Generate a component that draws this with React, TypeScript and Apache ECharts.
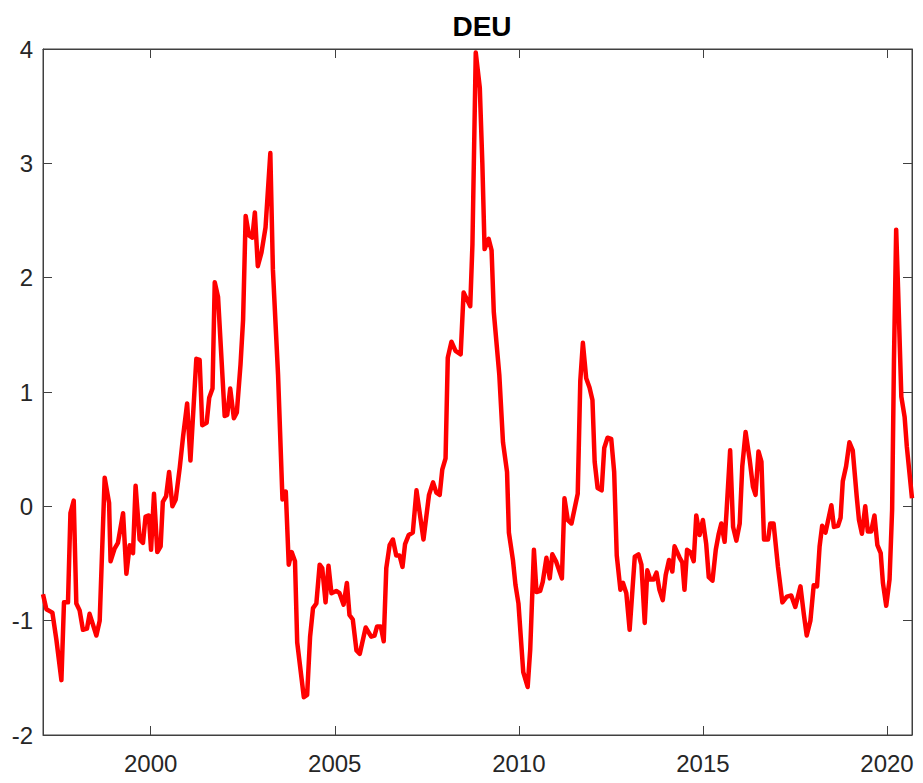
import React, { useEffect, useRef } from "react";
import * as echarts from "echarts";

const title = "DEU";

const years: number[] = [
  1997.075, 1997.167, 1997.33, 1997.44, 1997.575, 1997.645, 1997.754, 1997.82, 1997.91, 1997.98,
  1998.07, 1998.16, 1998.27, 1998.34, 1998.525, 1998.615, 1998.75, 1998.87, 1998.91, 1999.02,
  1999.11, 1999.25, 1999.34, 1999.43, 1999.52, 1999.59, 1999.7, 1999.79, 1999.86, 1999.95,
  2000.01, 2000.09, 2000.18, 2000.27, 2000.33, 2000.42, 2000.5, 2000.59, 2000.68, 2000.79,
  2000.88, 2000.99, 2001.08, 2001.24, 2001.33, 2001.4, 2001.52, 2001.59, 2001.68, 2001.74,
  2001.83, 2002.01, 2002.08, 2002.16, 2002.26, 2002.34, 2002.44, 2002.51, 2002.58, 2002.67,
  2002.76, 2002.83, 2002.91, 2003.01, 2003.12, 2003.25, 2003.32, 2003.46, 2003.58, 2003.67,
  2003.75, 2003.83, 2003.92, 2003.98, 2004.16, 2004.25, 2004.33, 2004.41, 2004.5, 2004.59,
  2004.66, 2004.75, 2004.83, 2004.91, 2005.04, 2005.13, 2005.24, 2005.33, 2005.4, 2005.49,
  2005.59, 2005.68, 2005.84, 2005.99, 2006.08, 2006.15, 2006.25, 2006.33, 2006.4, 2006.49,
  2006.58, 2006.67, 2006.76, 2006.84, 2006.91, 2007.01, 2007.12, 2007.22, 2007.41, 2007.56,
  2007.67, 2007.76, 2007.85, 2007.92, 2008.01, 2008.07, 2008.17, 2008.28, 2008.42, 2008.5,
  2008.59, 2008.68, 2008.74, 2008.83, 2008.94, 2009.01, 2009.07, 2009.18, 2009.26, 2009.32,
  2009.47, 2009.57, 2009.68, 2009.73, 2009.84, 2009.91, 2009.99, 2010.12, 2010.24, 2010.31,
  2010.41, 2010.48, 2010.58, 2010.65, 2010.75, 2010.84, 2010.91, 2011.01, 2011.17, 2011.24,
  2011.33, 2011.43, 2011.6, 2011.67, 2011.74, 2011.83, 2011.92, 2012.0, 2012.06, 2012.14,
  2012.25, 2012.32, 2012.41, 2012.51, 2012.59, 2012.66, 2012.76, 2012.83, 2012.92, 2013.01,
  2013.15, 2013.25, 2013.33, 2013.42, 2013.49, 2013.57, 2013.66, 2013.74, 2013.82, 2013.91,
  2013.99, 2014.08, 2014.17, 2014.23, 2014.37, 2014.44, 2014.5, 2014.57, 2014.66, 2014.75,
  2014.82, 2014.91, 2015.0, 2015.09, 2015.16, 2015.26, 2015.35, 2015.43, 2015.5, 2015.59,
  2015.64, 2015.74, 2015.82, 2015.91, 2016.0, 2016.07, 2016.16, 2016.27, 2016.36, 2016.43,
  2016.51, 2016.59, 2016.66, 2016.77, 2016.83, 2016.92, 2017.04, 2017.16, 2017.28, 2017.4,
  2017.51, 2017.65, 2017.74, 2017.82, 2017.92, 2018.01, 2018.1, 2018.17, 2018.24, 2018.33,
  2018.49, 2018.56, 2018.67, 2018.74, 2018.8, 2018.89, 2018.98, 2019.07, 2019.18, 2019.24,
  2019.32, 2019.41, 2019.48, 2019.57, 2019.66, 2019.74, 2019.83, 2019.89, 2019.98, 2020.07,
  2020.14, 2020.19, 2020.25, 2020.3, 2020.39, 2020.48, 2020.54, 2020.68,
];

const values: number[] = [
  -0.77, -0.9, -0.93, -1.17, -1.52, -0.84, -0.84, -0.06, 0.05, -0.85,
  -0.91, -1.08, -1.07, -0.94, -1.13, -1.0, 0.25, 0.03, -0.48, -0.37,
  -0.32, -0.06, -0.59, -0.34, -0.41, 0.18, -0.29, -0.32, -0.09, -0.08,
  -0.38, 0.11, -0.4, -0.35, 0.04, 0.09, 0.3, 0.0, 0.06, 0.34,
  0.61, 0.9, 0.4, 1.29, 1.28, 0.71, 0.73, 0.95, 1.03, 1.96,
  1.83, 0.79, 0.8, 1.03, 0.77, 0.82, 1.24, 1.63, 2.54, 2.37,
  2.35, 2.57, 2.1, 2.22, 2.44, 3.09, 2.07, 1.15, 0.06, 0.13,
  -0.51, -0.4, -0.48, -1.19, -1.67, -1.65, -1.14, -0.89, -0.85, -0.51,
  -0.54, -0.84, -0.52, -0.76, -0.74, -0.76, -0.86, -0.67, -0.95, -0.99,
  -1.26, -1.29, -1.06, -1.14, -1.13, -1.05, -1.05, -1.18, -0.54, -0.34,
  -0.29, -0.43, -0.43, -0.53, -0.33, -0.25, -0.23, 0.14, -0.29, 0.1,
  0.21, 0.12, 0.1, 0.32, 0.42, 1.3, 1.44, 1.36, 1.33, 1.87,
  1.81, 1.75, 2.29, 3.97, 3.66, 2.99, 2.25, 2.34, 2.24, 1.7,
  1.15, 0.56, 0.3, -0.23, -0.47, -0.69, -0.85, -1.45, -1.58, -1.25,
  -0.38, -0.75, -0.74, -0.66, -0.45, -0.63, -0.42, -0.48, -0.63, 0.07,
  -0.12, -0.15, 0.11, 1.1, 1.43, 1.12, 1.04, 0.93, 0.39, 0.16,
  0.14, 0.51, 0.6, 0.59, 0.3, -0.43, -0.73, -0.67, -0.76, -1.08,
  -0.44, -0.42, -0.51, -1.02, -0.56, -0.64, -0.64, -0.58, -0.73, -0.82,
  -0.6, -0.47, -0.57, -0.35, -0.45, -0.49, -0.73, -0.38, -0.4, -0.48,
  -0.08, -0.25, -0.12, -0.33, -0.62, -0.65, -0.38, -0.24, -0.15, -0.31,
  -0.06, 0.49, -0.18, -0.3, -0.15, 0.35, 0.65, 0.41, 0.17, 0.1,
  0.48, 0.39, -0.29, -0.29, -0.15, -0.15, -0.53, -0.84, -0.79, -0.78,
  -0.88, -0.7, -0.94, -1.13, -1.0, -0.69, -0.7, -0.35, -0.17, -0.23,
  0.01, -0.18, -0.17, -0.1, 0.22, 0.35, 0.56, 0.49, 0.08, -0.12,
  -0.24, 0.0, -0.22, -0.22, -0.08, -0.34, -0.41, -0.67, -0.87, -0.64,
  -0.03, 1.28, 2.42, 1.92, 0.96, 0.78, 0.52, 0.07,
];

const xTickValues: number[] = [2000, 2005, 2010, 2015, 2020];
const xRange: number[] = [1997.075, 2020.68];
const yRange: number[] = [-2, 4];
const yStep = 1;

export default function App() {
  const ref = useRef<HTMLDivElement>(null);

  useEffect(() => {
    if (!ref.current) return;
    const chart = echarts.init(ref.current, undefined, { renderer: "svg" });
    const font = "'Liberation Sans', Arial, Helvetica, sans-serif";
    const axisColor = "#404040";
    const labelColor = "#262626";
    const data = years.map((y, i) => [y, values[i]]);

    const makeX = (position: "top" | "bottom", showLabel: boolean) => ({
      type: "value" as const,
      gridIndex: 0,
      position,
      min: xRange[0],
      max: xRange[1],
      splitLine: { show: false },
      axisLine: { show: true, onZero: false, lineStyle: { color: axisColor, width: 1 } },
      axisTick: {
        show: true,
        inside: true,
        length: 9,
        customValues: xTickValues,
        lineStyle: { color: axisColor, width: 1 },
      },
      axisLabel: {
        show: showLabel,
        customValues: xTickValues,
        margin: 16,
        fontFamily: font,
        fontSize: 24,
        color: labelColor,
        formatter: (v: number) => String(Math.round(v)),
      },
    });
    const makeY = (position: "left" | "right", showLabel: boolean) => ({
      type: "value" as const,
      gridIndex: 0,
      position,
      min: yRange[0],
      max: yRange[1],
      interval: yStep,
      splitLine: { show: false },
      axisLine: { show: true, onZero: false, lineStyle: { color: axisColor, width: 1 } },
      axisTick: { show: true, inside: true, length: 9, lineStyle: { color: axisColor, width: 1 } },
      axisLabel: { show: showLabel, margin: 10, fontFamily: font, fontSize: 24, color: labelColor },
    });

    chart.setOption({
      animation: false,
      backgroundColor: "#ffffff",
      title: {
        text: title,
        left: 477,
        top: 7,
        textAlign: "center",
        textStyle: { fontFamily: font, fontSize: 28, fontWeight: "bold", color: "#000000" },
      },
      grid: {
        left: 43,
        right: 11,
        top: 49,
        bottom: 48,
        containLabel: false,
        show: true,
        borderColor: axisColor,
        borderWidth: 1,
        backgroundColor: "transparent",
      },
      xAxis: [makeX("bottom", true), makeX("top", false)],
      yAxis: [makeY("left", true), makeY("right", false)],
      series: [
        {
          type: "line",
          xAxisIndex: 0,
          yAxisIndex: 0,
          data,
          showSymbol: false,
          symbol: "none",
          lineStyle: { color: "#ff0000", width: 4.5, join: "round" },
          z: 3,
        },
      ],
    });

    return () => chart.dispose();
  }, []);

  return (
    <div
      ref={ref}
      style={{ position: "fixed", left: 0, top: 0, width: 923, height: 783, background: "#fff" }}
    />
  );
}
